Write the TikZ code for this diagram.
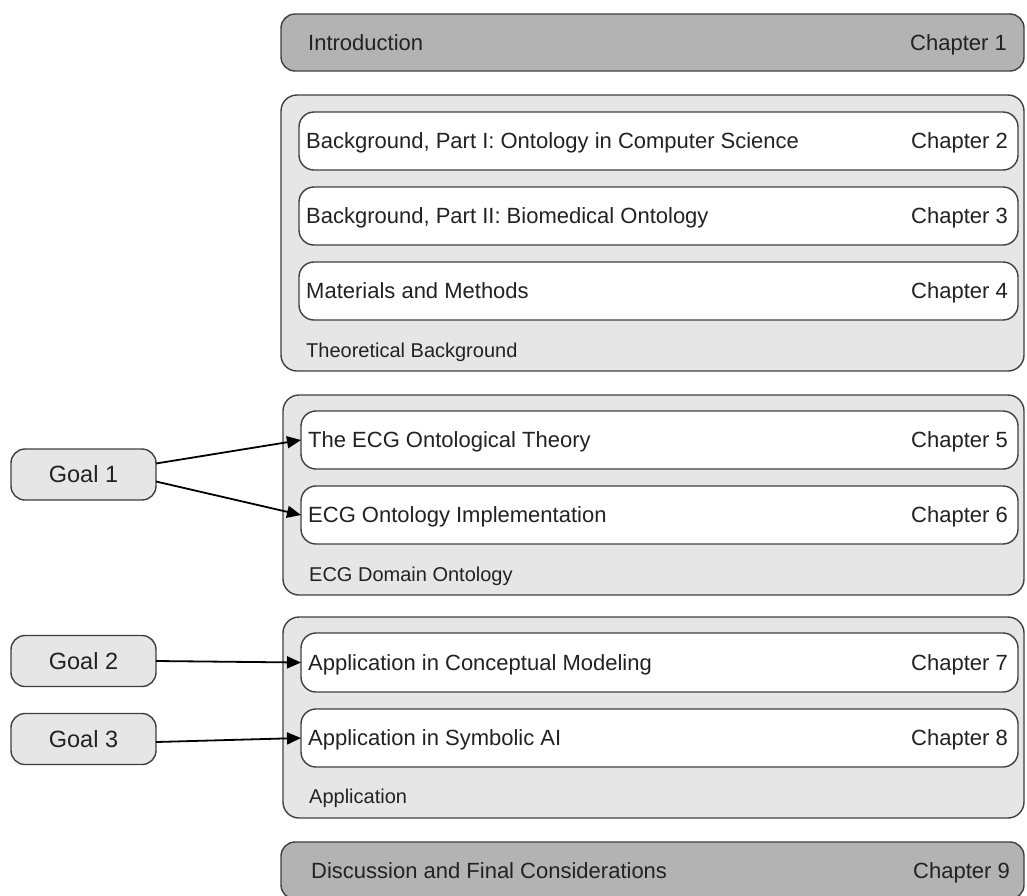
\documentclass[tikz,border=0pt]{standalone}
\usepackage{fontspec}
\setmainfont{Liberation Sans}
\usetikzlibrary{arrows.meta}
\definecolor{edgegray}{HTML}{3F3F3F}
\definecolor{darkfill}{HTML}{B3B3B3}
\definecolor{lightfill}{HTML}{E6E6E6}
\definecolor{inkgray}{HTML}{222222}
\tikzset{
  x=1pt, y=-1pt,
  boxbase/.style={draw=edgegray, line width=1.4pt, inner sep=0pt, outer sep=0pt},
  endbox/.style={boxbase, fill=darkfill, rounded corners=14pt},
  groupbox/.style={boxbase, fill=lightfill, rounded corners=16pt},
  chbox/.style={boxbase, fill=white, rounded corners=15pt},
  goalbox/.style={boxbase, fill=lightfill, rounded corners=14pt,
    font=\fontsize{23.5}{28}\selectfont, text=inkgray},
  txt/.style={inner sep=0pt, text=inkgray, text height=15.75pt, text depth=0pt,
    font=\fontsize{22}{26}\selectfont},
  grouplabel/.style={inner sep=0pt, text=inkgray, text height=14.3pt, text depth=0pt,
    font=\fontsize{20}{24}\selectfont, anchor=west},
  goalarrow/.style={draw=black, line width=1.8pt, -{Triangle[length=14pt,width=12pt]}},
}
% #1 style, #2 name, #3 top-left corner, #4 width, #5 height
\newcommand{\boxat}[5]{%
  \node[#1, minimum width={#4}, minimum height={#5}, anchor=north west] (#2) at #3 {};}
\begin{document}
\begin{tikzpicture}
\useasboundingbox (0,0) rectangle (1027,895);
\clip (0,0) rectangle (1027,895);

% Opening chapter
\boxat{endbox}{intro}{(281,14)}{743pt}{57pt}
\node[txt, anchor=west] (introT) at ([xshift=27pt]intro.west) {Introduction};
\node[txt, anchor=east] (introC) at ([xshift=-17pt]intro.east) {Chapter 1};

% Theoretical background group
\boxat{groupbox}{grpA}{(281,95)}{743pt}{276pt}
\boxat{chbox}{ch2}{(299,112)}{719pt}{58pt}
\boxat{chbox}{ch3}{(299,187)}{719pt}{58pt}
\boxat{chbox}{ch4}{(299,262)}{719pt}{58pt}
\node[txt, anchor=west] (ch2T) at ([xshift=7pt]ch2.west) {Background, Part I: Ontology in Computer Science};
\node[txt, anchor=east] (ch2C) at ([xshift=-10pt]ch2.east) {Chapter 2};
\node[txt, anchor=west] (ch3T) at ([xshift=7pt]ch3.west) {Background, Part II: Biomedical Ontology};
\node[txt, anchor=east] (ch3C) at ([xshift=-10pt]ch3.east) {Chapter 3};
\node[txt, anchor=west] (ch4T) at ([xshift=7pt]ch4.west) {Materials and Methods};
\node[txt, anchor=east] (ch4C) at ([xshift=-10pt]ch4.east) {Chapter 4};
\node[grouplabel] (grpAL) at (306,350) {Theoretical Background};

% Domain ontology group
\boxat{groupbox}{grpB}{(283,395)}{741pt}{200pt}
\boxat{chbox}{ch5}{(301,411)}{717pt}{58pt}
\boxat{chbox}{ch6}{(301,486)}{717pt}{58pt}
\node[txt, anchor=west] (ch5T) at ([xshift=7pt]ch5.west) {The ECG Ontological Theory};
\node[txt, anchor=east] (ch5C) at ([xshift=-10pt]ch5.east) {Chapter 5};
\node[txt, anchor=west] (ch6T) at ([xshift=7pt]ch6.west) {ECG Ontology Implementation};
\node[txt, anchor=east] (ch6C) at ([xshift=-10pt]ch6.east) {Chapter 6};
\node[grouplabel] (grpBL) at (309,574) {ECG Domain Ontology};

% Application group
\boxat{groupbox}{grpC}{(283,617)}{741pt}{201pt}
\boxat{chbox}{ch7}{(301,633)}{717pt}{59pt}
\boxat{chbox}{ch8}{(301,709)}{717pt}{58pt}
\node[txt, anchor=west] (ch7T) at ([xshift=7pt]ch7.west) {Application in Conceptual Modeling};
\node[txt, anchor=east] (ch7C) at ([xshift=-10pt]ch7.east) {Chapter 7};
\node[txt, anchor=west] (ch8T) at ([xshift=7pt]ch8.west) {Application in Symbolic AI};
\node[txt, anchor=east] (ch8C) at ([xshift=-10pt]ch8.east) {Chapter 8};
\node[grouplabel] (grpCL) at (309,796) {Application};

% Closing chapter
\boxat{endbox}{disc}{(281,842)}{743pt}{57pt}
\node[txt, anchor=west] (discT) at ([xshift=30pt]disc.west) {Discussion and Final Considerations};
\node[txt, anchor=east] (discC) at ([xshift=-14pt]disc.east) {Chapter 9};

% Goals
\node[goalbox, minimum width=145pt, minimum height=51pt] (g1) at (83.5,474.5) {Goal 1};
\node[goalbox, minimum width=145pt, minimum height=51pt] (g2) at (83.5,661) {Goal 2};
\node[goalbox, minimum width=145pt, minimum height=51pt] (g3) at (83.5,739) {Goal 3};

\draw[goalarrow] ([yshift=11pt]g1.east) -- (ch5.west);
\draw[goalarrow] ([yshift=-7pt]g1.east) -- (ch6.west);
\draw[goalarrow] (g2.east) -- (ch7.west);
\draw[goalarrow] ([yshift=-3pt]g3.east) -- (ch8.west);
\end{tikzpicture}
\end{document}
